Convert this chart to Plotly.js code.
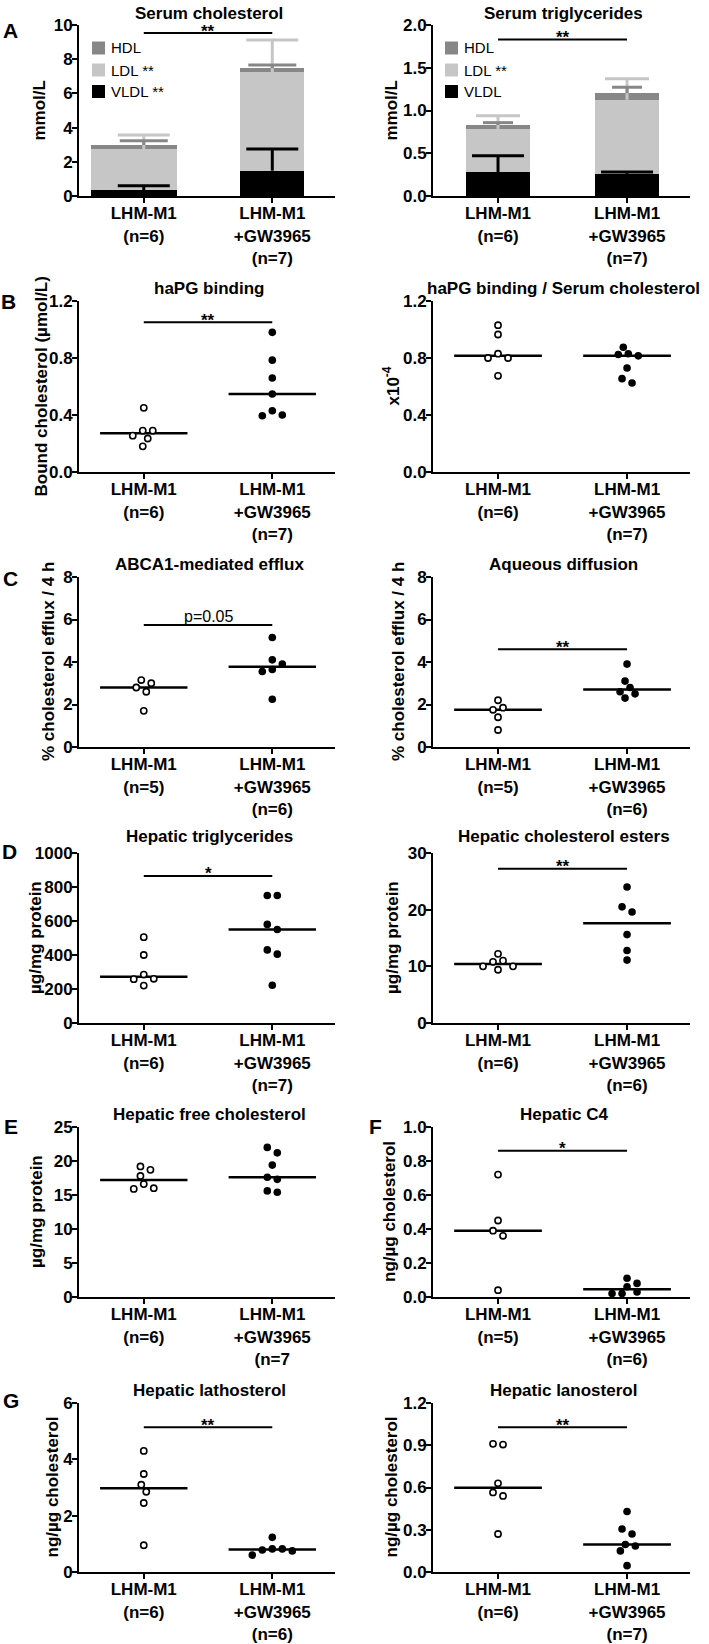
<!DOCTYPE html>
<html>
<head>
<meta charset="utf-8">
<script src="https://cdn.plot.ly/plotly-3.0.1.min.js"></script>
<style>html,body{margin:0;padding:0;background:#fff;}#chart{width:709px;height:1644px;}</style>
</head>
<body>
<div id="chart"></div>
<script>
// ===================== DATA =====================
const groupNames = ['LHM-M1', 'LHM-M1<br>+GW3965'];
const nSerum = [6, 7];

// Serum cholesterol (mmol/L): mean and SD per lipoprotein fraction
const cholVLDL = [0.35, 1.48];
const cholVLDLsd = [0.25, 1.27];
const cholLDL = [2.38, 5.75];
const cholLDLsd = [0.84, 1.89];
const cholHDL = [0.25, 0.24];
const cholHDLsd = [0.25, 0.19];

// Serum triglycerides (mmol/L)
const tgVLDL = [0.28, 0.26];
const tgVLDLsd = [0.19, 0.02];
const tgLDL = [0.505, 0.865];
const tgLDLsd = [0.155, 0.245];
const tgHDL = [0.045, 0.077];
const tgHDLsd = [0.028, 0.07];

// Individual animals: control (LHM-M1) and treated (+GW3965)
const hapgCtrl = [0.45, 0.29, 0.29, 0.255, 0.235, 0.18];
const hapgGW = [0.98, 0.785, 0.66, 0.547, 0.43, 0.395, 0.40];
const ratioCtrl = [1.03, 0.965, 0.83, 0.80, 0.80, 0.675];
const ratioGW = [0.875, 0.83, 0.825, 0.815, 0.73, 0.655, 0.625];
const abcaCtrl = [3.15, 3.0, 2.8, 2.6, 1.7];
const abcaGW = [5.15, 4.1, 3.9, 3.65, 3.55, 2.25];
const aqCtrl = [2.2, 1.85, 1.75, 1.4, 0.8];
const aqGW = [3.9, 3.1, 2.8, 2.6, 2.5, 2.3];
const livTgCtrl = [505, 400, 285, 260, 258, 220];
const livTgGW = [750, 750, 580, 550, 430, 405, 222];
const ceCtrl = [12.2, 11.0, 10.8, 10.0, 10.0, 9.4];
const ceGW = [24.0, 20.5, 19.6, 15.6, 12.8, 11.1];
const fcCtrl = [19.2, 18.7, 17.8, 16.6, 16.0, 15.9];
const fcGW = [22.0, 21.2, 19.4, 17.6, 17.3, 15.6, 15.4];
const c4Ctrl = [0.72, 0.45, 0.39, 0.36, 0.04];
const c4GW = [0.11, 0.08, 0.06, 0.03, 0.02, 0.02];
const lathCtrl = [4.3, 3.48, 3.1, 2.85, 2.45, 0.95];
const lathGW = [1.23, 0.82, 0.82, 0.78, 0.75, 0.60];
const lanoCtrl = [0.91, 0.905, 0.63, 0.565, 0.54, 0.27];
const lanoGW = [0.43, 0.305, 0.27, 0.195, 0.185, 0.15, 0.045];

const panelTitles = ['Serum cholesterol', 'Serum triglycerides', 'haPG binding',
  'haPG binding / Serum cholesterol', 'ABCA1-mediated efflux', 'Aqueous diffusion',
  'Hepatic triglycerides', 'Hepatic cholesterol esters', 'Hepatic free cholesterol',
  'Hepatic C4', 'Hepatic lathosterol', 'Hepatic lanosterol'];
const yTitles = ['mmol/L', 'mmol/L', 'Bound cholesterol (µmol/L)', 'x10<sup>-4</sup>',
  '% cholesterol efflux / 4 h', '% cholesterol efflux / 4 h', 'µg/mg protein', 'µg/mg protein',
  'µg/mg protein', 'ng/µg cholesterol', 'ng/µg cholesterol', 'ng/µg cholesterol'];
const yMax = [10, 2, 1.2, 1.2, 8, 8, 1000, 30, 25, 1, 6, 1.2];
const yStep = [2, 0.5, 0.4, 0.4, 2, 2, 200, 10, 5, 0.2, 2, 0.3];
const yFormat = ['', '.1f', '.1f', '.1f', '', '', '', '', '', '.1f', '', '.1f'];
const sigLevels = [9.53, 1.83, 1.05, null, 5.74, 4.6, 865, 27.2, null, 0.86, 5.14, 1.028];
const sigLabels = ['**', '**', '**', '', 'p=0.05', '**', '*', '**', '', '*', '**', '**'];
const nLabelOverride = {8: [null, '(n=7']};   // as printed in the original
const legendLabels = [['HDL', 'LDL **', 'VLDL **'], ['HDL', 'LDL **', 'VLDL']];
const panelLetters = ['A', '', 'B', '', 'C', '', 'D', '', 'E', 'F', 'G', ''];

// ===================== STYLE / GEOMETRY =====================
const W = 709, H = 1644;
const FONT = "'Liberation Sans', Arial, Helvetica, sans-serif";
const rowsPx = [[25, 196], [301, 472], [577, 747], [853, 1023], [1127, 1297], [1403, 1572]];
const colsPx = [[79, 335], [433, 690]];
const XR = [-0.504, 1.488];
const titleY = [13, 288, 564, 837, 1114, 1390];
const yTitleX = [39, 391, 41, 391, 48, 398, 35, 392, 36, 389, 52, 391];
const letterPos = [[10, 30], null, [8, 302], null, [10, 578], null, [9, 851], null, [11, 1126], [376, 1126], [11, 1400], null];
const C_VLDL = '#000000', C_LDL = '#c6c6c6', C_HDL = '#878787';
const PX = x => x / W, PY = y => 1 - y / H;

const dotsData = {2: [hapgCtrl, hapgGW], 3: [ratioCtrl, ratioGW], 4: [abcaCtrl, abcaGW], 5: [aqCtrl, aqGW],
  6: [livTgCtrl, livTgGW], 7: [ceCtrl, ceGW], 8: [fcCtrl, fcGW], 9: [c4Ctrl, c4GW],
  10: [lathCtrl, lathGW], 11: [lanoCtrl, lanoGW]};
const barData = {
  0: {segs: [[cholVLDL, cholVLDLsd, C_VLDL, 26], [cholLDL, cholLDLsd, C_LDL, 26], [cholHDL, cholHDLsd, C_HDL, 24]],
      width: [0.667, 0.496], offset: [-0.411, -0.248], n: nSerum},
  1: {segs: [[tgVLDL, tgVLDLsd, C_VLDL, 26], [tgLDL, tgLDLsd, C_LDL, 22], [tgHDL, tgHDLsd, C_HDL, 15]],
      width: [0.5, 0.5], offset: [-0.25, -0.25], n: nSerum}
};
const panelRC = [[0,0],[0,1],[1,0],[1,1],[2,0],[2,1],[3,0],[3,1],[4,0],[4,1],[5,0],[5,1]];

function median(a) {
  const s = a.slice().sort((x, y) => x - y), m = s.length >> 1;
  return s.length % 2 ? s[m] : (s[m - 1] + s[m]) / 2;
}
// simple beeswarm in pixel space, returns horizontal offsets in px
function swarm(vals, pyu, step, minD) {
  const n = vals.length;
  const idx = [...Array(n).keys()].sort((a, b) => vals[b] - vals[a]);
  const pts = [], off = new Array(n).fill(0);
  idx.forEach(i => {
    const y = vals[i] * pyu;
    for (let k = 0; k < 80; k++) {
      const m = Math.ceil(k / 2), c = k === 0 ? 0 : (k % 2 ? m * step : -m * step);
      if (pts.every(p => Math.hypot(p.x - c, p.y - y) >= minD)) { off[i] = c; pts.push({x: c, y: y}); break; }
    }
  });
  // recenter vertically-linked clusters
  let cl = [idx[0]];
  const flush = () => {
    const mean = cl.reduce((s, i) => s + off[i], 0) / cl.length;
    cl.forEach(i => off[i] -= mean);
  };
  for (let j = 1; j < n; j++) {
    if ((vals[idx[j - 1]] - vals[idx[j]]) * pyu < minD) cl.push(idx[j]);
    else { flush(); cl = [idx[j]]; }
  }
  flush();
  return off;
}

const traces = [], shapes = [], annotations = [];
const layout = {
  width: W, height: H, margin: {l: 0, r: 0, t: 0, b: 0},
  paper_bgcolor: '#fff', plot_bgcolor: 'rgba(0,0,0,0)', showlegend: false,
  barmode: 'stack', font: {family: FONT, color: '#000'}
};

panelRC.forEach(([row, col], k) => {
  const i = k + 1, sfx = i === 1 ? '' : String(i);
  const xa = 'x' + sfx, ya = 'y' + sfx;
  const [t, b] = rowsPx[row], [l, r] = colsPx[col];
  const pyu = (b - t) / yMax[k], pxu = (r - l) / (XR[1] - XR[0]);
  const isDots = dotsData[k] !== undefined;
  const nArr = isDots ? dotsData[k].map(a => a.length) : barData[k].n;
  const ticktext = groupNames.map((g, j) => {
    const ov = nLabelOverride[k] && nLabelOverride[k][j];
    return g + '<br>' + (ov || '(n=' + nArr[j] + ')');
  });
  const axCommon = {showline: true, linecolor: '#000', linewidth: 2, ticks: 'outside', ticklen: 5,
    tickwidth: 2, tickcolor: '#000', showgrid: false, zeroline: false, fixedrange: true,
    ticklabelstandoff: -4,
    tickfont: {family: FONT, size: 17, weight: 'bold', color: '#000'}};
  layout['xaxis' + sfx] = Object.assign({}, axCommon, {domain: [PX(l), PX(r)], range: XR, anchor: ya,
    tickmode: 'array', tickvals: [0, 1], ticktext: ticktext});
  layout['yaxis' + sfx] = Object.assign({}, axCommon, {domain: [PY(b), PY(t)], range: [0, yMax[k]], anchor: xa,
    tickmode: 'linear', tick0: 0, dtick: yStep[k], tickformat: yFormat[k]});

  if (isDots) {
    const [ctrl, gw] = dotsData[k];
    [ctrl, gw].forEach((vals, g) => {
      const md = median(vals);
      traces.push({type: 'scatter', mode: 'lines', x: [g - 0.34, g + 0.34], y: [md, md], xaxis: xa, yaxis: ya,
        line: {color: '#000', width: 2.5}, hoverinfo: 'skip', cliponaxis: false});
    });
    [ctrl, gw].forEach((vals, g) => {
      const off = swarm(vals, pyu, 5, 8);
      traces.push({type: 'scatter', mode: 'markers', x: vals.map((v, j) => g + off[j] / pxu), y: vals,
        xaxis: xa, yaxis: ya, cliponaxis: false, hoverinfo: 'skip',
        marker: g === 0 ? {size: 6.2, color: '#fff', line: {color: '#000', width: 1.6}}
                        : {size: 7.6, color: '#000', line: {width: 0}}});
    });
  } else {
    const bd = barData[k];
    bd.segs.forEach(([v, sd, color]) => {
      traces.push({type: 'bar', x: [0, 1], y: v, xaxis: xa, yaxis: ya, width: bd.width, offset: bd.offset,
        marker: {color: color, line: {width: 0}}, hoverinfo: 'skip'});
    });
    let cum = [0, 0];
    bd.segs.forEach(([v, sd, color, cap]) => {
      cum = cum.map((c, j) => c + v[j]);
      const xs = [], ys = [];
      [0, 1].forEach(j => {
        const hw = cap / pxu;
        xs.push(j, j, null, j - hw, j + hw, null);
        ys.push(cum[j], cum[j] + sd[j], null, cum[j] + sd[j], cum[j] + sd[j], null);
      });
      traces.push({type: 'scatter', mode: 'lines', x: xs, y: ys, xaxis: xa, yaxis: ya,
        line: {color: color, width: 3}, hoverinfo: 'skip', cliponaxis: false});
    });
    // legend (drawn manually, top-left of the plot)
    const lx = col === 0 ? 92 : 445;
    const cys = [48, 70, 91.5];
    const lcolors = [C_HDL, C_LDL, C_VLDL];
    legendLabels[k].forEach((lab, j) => {
      shapes.push({type: 'rect', xref: 'paper', yref: 'paper', x0: PX(lx), x1: PX(lx + 13),
        y0: PY(cys[j] + 6.5), y1: PY(cys[j] - 6.5), fillcolor: lcolors[j], line: {width: 0}});
      annotations.push({xref: 'paper', yref: 'paper', x: PX(lx + 17), y: PY(cys[j]), xanchor: 'left', yanchor: 'middle',
        text: lab, showarrow: false, font: {family: FONT, size: 15, color: '#000'}});
    });
  }

  // significance bar
  if (sigLevels[k] !== null) {
    traces.push({type: 'scatter', mode: 'lines', x: [0, 1], y: [sigLevels[k], sigLevels[k]], xaxis: xa, yaxis: ya,
      line: {color: '#000', width: 2}, hoverinfo: 'skip', cliponaxis: false});
    const isP = sigLabels[k].startsWith('p');
    annotations.push({xref: xa, yref: ya, x: 0.5, y: sigLevels[k], text: sigLabels[k], showarrow: false,
      xanchor: 'center', yanchor: 'middle', yshift: isP ? 9 : 2,
      font: {family: FONT, size: isP ? 16 : 17, weight: isP ? 'normal' : 'bold', color: '#000'}});
  }
  // panel title
  annotations.push({xref: 'paper', yref: 'paper', x: PX((l + r) / 2 + 2), y: PY(titleY[row]), text: panelTitles[k],
    showarrow: false, xanchor: 'center', yanchor: 'middle',
    font: {family: FONT, size: 17, weight: 'bold', color: '#000'}});
  // y-axis title
  annotations.push({xref: 'paper', yref: 'paper', x: PX(yTitleX[k]), y: PY((t + b) / 2), text: yTitles[k],
    showarrow: false, textangle: -90, xanchor: 'center', yanchor: 'middle',
    font: {family: FONT, size: 17, weight: 'bold', color: '#000'}});
  // panel letter
  if (panelLetters[k]) {
    const [px, py] = letterPos[k];
    annotations.push({xref: 'paper', yref: 'paper', x: PX(px), y: PY(py), text: panelLetters[k], showarrow: false,
      xanchor: 'center', yanchor: 'middle', font: {family: FONT, size: 21, weight: 'bold', color: '#000'}});
  }
});

layout.shapes = shapes;
layout.annotations = annotations;
Plotly.newPlot('chart', traces, layout, {staticPlot: true, displayModeBar: false});
</script>
</body>
</html>
